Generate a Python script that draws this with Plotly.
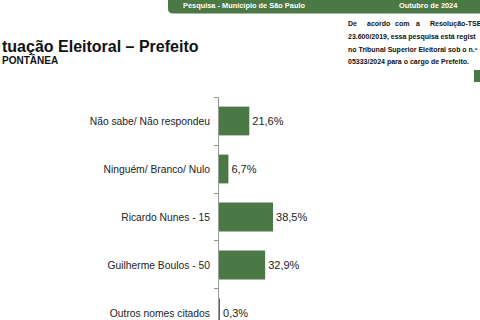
import plotly.graph_objects as go

categories = ["Não sabe/ Não respondeu", "Ninguém/ Branco/ Nulo", "Ricardo Nunes - 15",
              "Guilherme Boulos - 50", "Outros nomes citados"]
values = [21.6, 6.7, 38.5, 32.9, 0.3]
value_labels = [f"{v:.1f}".replace(".", ",") + "%" for v in values]

title_text = "tuação Eleitoral – Prefeito"
subtitle_text = "PONTÂNEA"
header_left = "Pesquisa - Município de São Paulo"
header_right = "Outubro de 2024"
note_line1_words = ["De", "acordo", "com", "a", "Resolução-TSE"]
note_lines = ["23.600/2019, essa pesquisa está regist",
              "no Tribunal Superior Eleitoral sob o n.º",
              "05333/2024 para o cargo de Prefeito."]

W, H = 480, 320
L, R, T, B = 219, 0, 97, 0
PW, PH = W - L - R, H - T - B

def px(x):
    return (x - L) / PW

def py(y):
    return (H - B - y) / PH

GREEN = "#4a7946"
FONT = "Arial, Liberation Sans, sans-serif"

fig = go.Figure(go.Bar(
    y=categories, x=values, orientation="h",
    marker=dict(color=GREEN, line=dict(width=0)),
    width=0.6,
    text=value_labels, textposition="outside",
    textfont=dict(family=FONT, size=11, color="#222"),
    cliponaxis=False,
))

shapes = []
# header bar with rounded bottom-left corner
r = 5
x0, x1, y0, y1 = 168, 482, -2, 13.5
path = (f"M {px(x0)} {py(y0)} L {px(x1)} {py(y0)} L {px(x1)} {py(y1)} "
        f"L {px(x0 + r)} {py(y1)} Q {px(x0)} {py(y1)} {px(x0)} {py(y1 - r)} Z")
shapes.append(dict(type="path", xref="paper", yref="paper", path=path,
                   fillcolor=GREEN, line=dict(width=0), layer="above"))
shapes.append(dict(type="rect", xref="paper", yref="paper",
                   x0=px(474), x1=px(481), y0=py(70), y1=py(82),
                   fillcolor=GREEN, line=dict(width=0)))

ann = []
def add(text, x, y, size, bold=False, color="#111", xanchor="left"):
    ann.append(dict(text=f"<b>{text}</b>" if bold else text, x=px(x), y=py(y),
                    xref="paper", yref="paper", xanchor=xanchor, yanchor="middle",
                    showarrow=False, font=dict(family=FONT, size=size, color=color)))

add(header_left, 181, 5.5, 7.4, True, "white")
add(header_right, 397, 5.5, 7.4, True, "white")
add(title_text, 0, 46, 16, True, "#111")
add(subtitle_text, 0, 60, 10, True, "#111")

word_x = [346, 365, 393, 414, 428]
for w, x in zip(note_line1_words, word_x):
    add(w, x, 24, 7, True, "#111")
for i, line in enumerate(note_lines):
    add(line, 346, 37 + 12.6 * i, 7, True, "#111")

fig.update_layout(
    width=W, height=H,
    margin=dict(l=L, r=R, t=T, b=B, pad=0),
    paper_bgcolor="white", plot_bgcolor="white",
    showlegend=False,
    shapes=shapes, annotations=ann,
    xaxis=dict(range=[0, PW / 1.403], visible=False, fixedrange=True),
    yaxis=dict(type="category", range=[4.146, -0.5], showline=True,
               linecolor="#999", linewidth=1, ticks="outside", ticklen=4,
               tickcolor="#999", tickson="boundaries", showgrid=False,
               tickfont=dict(family=FONT, size=10.3, color="#222"),
               ticklabelstandoff=6),
    bargap=0.4,
)

fig.write_html("out.html")
